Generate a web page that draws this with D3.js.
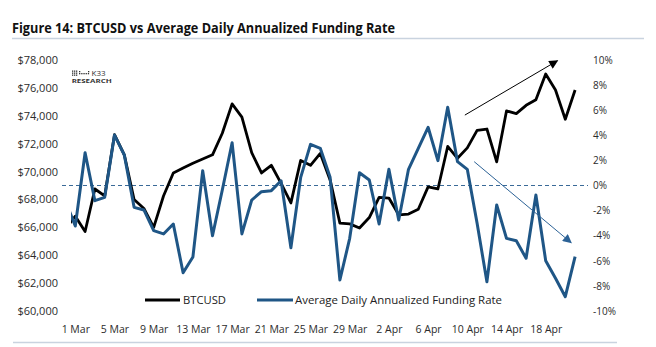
<!DOCTYPE html>
<html><head><meta charset="utf-8">
<script src="https://cdn.jsdelivr.net/npm/d3@7"></script>
<style>
body{margin:0;background:#fff;}
svg{display:block;font-family:"Open Sans",sans-serif;}
</style></head><body>
<svg id="c" width="656" height="347"></svg>
<script>
const days = ["29 Feb","1 Mar","2 Mar","3 Mar","4 Mar","5 Mar","6 Mar","7 Mar","8 Mar","9 Mar","10 Mar","11 Mar","12 Mar","13 Mar","14 Mar","15 Mar","16 Mar","17 Mar","18 Mar","19 Mar","20 Mar","21 Mar","22 Mar","23 Mar","24 Mar","25 Mar","26 Mar","27 Mar","28 Mar","29 Mar","30 Mar","31 Mar","1 Apr","2 Apr","3 Apr","4 Apr","5 Apr","6 Apr","7 Apr","8 Apr","9 Apr","10 Apr","11 Apr","12 Apr","13 Apr","14 Apr","15 Apr","16 Apr","17 Apr","18 Apr","19 Apr","20 Apr","21 Apr"];
const btcusd = [65900,66800,65700,68750,68250,72650,71200,68000,67350,66000,68250,69900,70250,70600,70900,71200,72750,74850,73900,71350,69900,70450,69150,67750,70800,70450,71300,69400,66300,66250,65950,66700,68150,68100,66900,66950,67300,68900,68750,71800,70950,71700,72950,73050,70700,74350,74150,74750,75150,77000,75850,73750,75850];
const funding = [-1.24,-3.23,2.61,-1.21,-0.94,4.02,2.43,-1.74,-1.95,-3.60,-3.86,-3.07,-6.95,-5.70,1.18,-4.00,-0.36,3.41,-3.86,-1.16,-0.49,-0.41,0.38,-4.96,0.65,3.28,2.96,0.65,-7.53,-4.21,1.02,0.44,-3.07,1.29,-2.75,1.29,2.96,4.64,1.98,6.23,1.90,1.29,-3.01,-7.67,-1.55,-4.21,-4.40,-5.80,-0.76,-5.99,-7.39,-8.86,-5.67];
const xTickLabels = ["1 Mar","5 Mar","9 Mar","13 Mar","17 Mar","21 Mar","25 Mar","29 Mar","2 Apr","6 Apr","10 Apr","14 Apr","18 Apr"];
const leftTicks = [60000,62000,64000,66000,68000,70000,72000,74000,76000,78000];
const rightTicks = [-10,-8,-6,-4,-2,0,2,4,6,8,10];
// trend arrows: [startDay, startValue, endDay, endValue]
const priceArrow = ["9 Apr",74050,"19 Apr",77950];
const fundingArrow = ["10 Apr",1.9,"20 Apr",-4.56];

const BLUE = "#1f5686";
const svg = d3.select("#c");

const x = d3.scalePoint().domain(days).range([65.5, 575.1]);
const step = x.step();
const xd = (d, off) => x(d) + (off||0)*step;
const yL = d3.scaleLinear().domain([60000,78000]).range([311,60]);
const yR = d3.scaleLinear().domain([-10,10]).range([311,60]);

// title
svg.append("text").attr("x",12).attr("y",33).attr("font-size",14.5).attr("font-weight",700)
  .attr("fill","#111").attr("textLength",383).attr("lengthAdjust","spacingAndGlyphs")
  .text("Figure 14: BTCUSD vs Average Daily Annualized Funding Rate");
svg.append("line").attr("x1",12).attr("x2",644).attr("y1",38.5).attr("y2",38.5)
  .attr("stroke","#c9d3df").attr("stroke-width",1.5);
svg.append("line").attr("x1",13).attr("x2",617).attr("y1",342.5).attr("y2",342.5)
  .attr("stroke","#c9d3df").attr("stroke-width",1.5);

// axes
const gl = svg.append("g").attr("transform","translate(58,0)")
  .call(d3.axisLeft(yL).tickValues(leftTicks).tickSize(0).tickPadding(0).tickFormat(d=>"$"+d3.format(",")(d)));
const gr = svg.append("g").attr("transform","translate(593,0)")
  .call(d3.axisRight(yR).tickValues(rightTicks).tickSize(0).tickPadding(0).tickFormat(d=>d+"%"));
const gb = svg.append("g").attr("transform","translate(0,325.5)")
  .call(d3.axisBottom(x).tickValues(xTickLabels).tickSize(0).tickPadding(0));
[gl,gr,gb].forEach(g=>{g.select(".domain").remove();
  g.selectAll("text").attr("fill","#2b2b2b").attr("font-family","'Open Sans',sans-serif");});
gl.selectAll("text").attr("font-size",11);
gr.selectAll("text").attr("font-size",10);
gb.selectAll("text").attr("font-size",10.5);

// zero line
svg.append("line").attr("x1",62).attr("x2",588).attr("y1",yR(0)).attr("y2",yR(0))
  .attr("stroke","#3a6a98").attr("stroke-width",1.1).attr("stroke-dasharray","4,3");

// clip
svg.append("clipPath").attr("id","pc").append("rect").attr("x",71).attr("y",40).attr("width",520).attr("height",280);

const lp = svg.append("g").attr("clip-path","url(#pc)");
lp.append("path").datum(btcusd).attr("fill","none").attr("stroke","#000").attr("stroke-width",2.8)
  .attr("stroke-linejoin","round")
  .attr("d",d3.line().x((d,i)=>x(days[i])).y(d=>yL(d)));
lp.append("path").datum(funding).attr("fill","none").attr("stroke",BLUE).attr("stroke-width",3)
  .attr("stroke-linejoin","round")
  .attr("d",d3.line().x((d,i)=>x(days[i])).y(d=>yR(d)));

// arrows
const defs = svg.append("defs");
function marker(id,color){
  defs.append("marker").attr("id",id).attr("viewBox","0 0 10 10").attr("refX",9).attr("refY",5)
    .attr("markerWidth",11).attr("markerHeight",9).attr("markerUnits","userSpaceOnUse").attr("orient","auto")
    .append("path").attr("d","M0,0L10,5L0,10Z").attr("fill",color);
}
marker("ab","#000"); marker("au","#2c6296");
svg.append("line").attr("x1",xd(priceArrow[0],0.75)).attr("y1",yL(priceArrow[1]))
  .attr("x2",xd(priceArrow[2],0.2)).attr("y2",yL(priceArrow[3]))
  .attr("stroke","#000").attr("stroke-width",1).attr("marker-end","url(#ab)");
svg.append("line").attr("x1",xd(fundingArrow[0],0.7)).attr("y1",yR(fundingArrow[1]))
  .attr("x2",xd(fundingArrow[2],0.6)).attr("y2",yR(fundingArrow[3]))
  .attr("stroke","#2c6296").attr("stroke-width",1).attr("marker-end","url(#au)");

// legend
const lg = svg.append("g");
lg.append("line").attr("x1",145).attr("x2",180).attr("y1",300).attr("y2",300).attr("stroke","#000").attr("stroke-width",3);
lg.append("text").attr("x",183).attr("y",304).attr("font-size",11).attr("fill","#222").attr("textLength",43).attr("lengthAdjust","spacingAndGlyphs").text("BTCUSD");
lg.append("line").attr("x1",257).attr("x2",293).attr("y1",300).attr("y2",300).attr("stroke",BLUE).attr("stroke-width",3);
lg.append("text").attr("x",295).attr("y",304).attr("font-size",11).attr("fill","#222").attr("textLength",207).attr("lengthAdjust","spacingAndGlyphs").text("Average Daily Annualized Funding Rate");

// logo
const logo = svg.append("g").attr("fill","#333");
for(let c=0;c<3;c++){for(let r=0;r<3;r++){logo.append("rect").attr("x",72+c*2).attr("y",70.5+r*2).attr("width",1.3).attr("height",1.3);}}
for(let c=0;c<5;c++){logo.append("rect").attr("x",79+c*2.2).attr("y",73).attr("width",1.3).attr("height",1.3);}
logo.append("rect").attr("x",79).attr("y",71).attr("width",1.3).attr("height",1.3);
logo.append("rect").attr("x",88).attr("y",71).attr("width",1.3).attr("height",1.3);
logo.append("text").attr("x",91.5).attr("y",76.3).attr("font-size",8).attr("fill","#333").text("K33");
logo.append("text").attr("x",71.7).attr("y",82.5).attr("font-size",5).attr("font-weight",700).attr("fill","#333")
  .attr("textLength",40).attr("lengthAdjust","spacingAndGlyphs").text("RESEARCH");
</script>
</body></html>
